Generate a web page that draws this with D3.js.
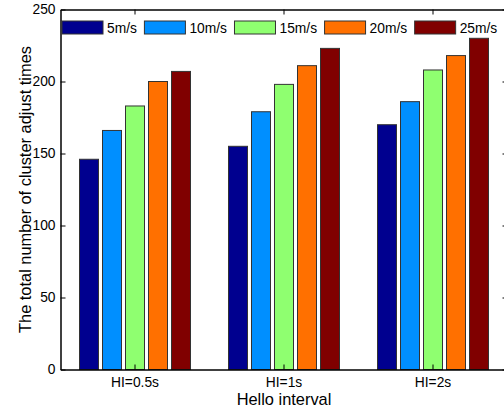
<!DOCTYPE html>
<html>
<head>
<meta charset="utf-8">
<script src="https://cdn.jsdelivr.net/npm/d3@7"></script>
<style>
  body { margin: 0; background: #fff; }
  text { font-family: "Liberation Sans", Arial, sans-serif; }
</style>
</head>
<body>
<div id="chart"></div>
<script>
// data
var groups = ["HI=0.5s", "HI=1s", "HI=2s"];
var series = ["5m/s", "10m/s", "15m/s", "20m/s", "25m/s"];
var colors = ["#00008f", "#008fff", "#8fff70", "#ff7000", "#800000"];
var v5 = [146, 155, 170];
var v10 = [166, 179, 186];
var v15 = [183, 198, 208];
var v20 = [200, 211, 218];
var v25 = [207, 223, 230];
var values = [v5, v10, v15, v20, v25];
var yTicks = [0, 50, 100, 150, 200, 250];

var width = 504, height = 411;
var mLeft = 60.5, mRight = 507.5, mTop = 9.5, mBottom = 369.5;

var svg = d3.select("#chart").append("svg")
    .attr("width", width)
    .attr("height", height);

var x = d3.scaleBand().domain(groups).range([mLeft, mRight]).padding(0);
var xs = d3.scaleBand().domain(series).range([-55.5, 55.5])
    .paddingInner(4 / 23).paddingOuter(0);
var y = d3.scaleLinear().domain([0, 250]).range([mBottom, mTop]);

// bars
var rows = [];
series.forEach(function (s, i) {
    groups.forEach(function (g, j) {
        rows.push({ g: g, s: s, i: i, v: values[i][j] });
    });
});

svg.selectAll(".bar")
    .data(rows)
    .enter().append("rect")
    .attr("class", "bar")
    .attr("x", function (d) { return x(d.g) + x.bandwidth() / 2 + xs(d.s); })
    .attr("y", function (d) { return y(d.v); })
    .attr("width", xs.bandwidth())
    .attr("height", function (d) { return y(0) - y(d.v); })
    .style("fill", function (d) { return colors[d.i]; })
    .style("stroke", "#333")
    .style("stroke-width", 1);

// axes
var yAxis = svg.append("g")
    .attr("transform", "translate(" + mLeft + ",0)")
    .call(d3.axisLeft(y).tickValues(yTicks).tickSizeInner(-5).tickSizeOuter(0).tickPadding(5));
yAxis.selectAll("text").style("font-size", "13.8px").attr("fill", "#000");

svg.append("g")
    .attr("transform", "translate(" + mRight + ",0)")
    .call(d3.axisRight(y).tickValues(yTicks).tickSizeInner(-5).tickSizeOuter(0).tickFormat(""));

var xAxis = svg.append("g")
    .attr("transform", "translate(0," + mBottom + ")")
    .call(d3.axisBottom(x).tickSizeInner(-5).tickSizeOuter(0).tickPadding(8));
xAxis.selectAll("text").style("font-size", "13.8px").attr("fill", "#000");

svg.append("g")
    .attr("transform", "translate(0," + mTop + ")")
    .call(d3.axisTop(x).tickSizeInner(-5).tickSizeOuter(0).tickFormat(""));

svg.selectAll(".domain").attr("stroke", "#000").attr("stroke-width", 1.5);
svg.selectAll(".tick line").attr("stroke", "#000");

// axis labels
svg.append("text")
    .attr("x", 284)
    .attr("y", 405)
    .attr("text-anchor", "middle")
    .style("font-size", "16.4px")
    .text("Hello interval");

svg.append("text")
    .attr("transform", "translate(31," + ((mTop + mBottom) / 2) + ") rotate(-90)")
    .attr("text-anchor", "middle")
    .style("font-size", "16.4px")
    .text("The total number of cluster adjust times");

// legend
var legend = svg.append("g").attr("class", "legend");
var lx = 62;
series.forEach(function (s, i) {
    var item = legend.append("g").attr("transform", "translate(" + lx + ",21)");
    item.append("rect")
        .attr("width", 41)
        .attr("height", 13)
        .style("fill", colors[i])
        .style("stroke", "#333");
    var t = item.append("text")
        .attr("x", 45)
        .attr("y", 11.5)
        .style("font-size", "13.8px")
        .text(s);
    lx += 45 + t.node().getComputedTextLength() + 7.5;
});
</script>
</body>
</html>
